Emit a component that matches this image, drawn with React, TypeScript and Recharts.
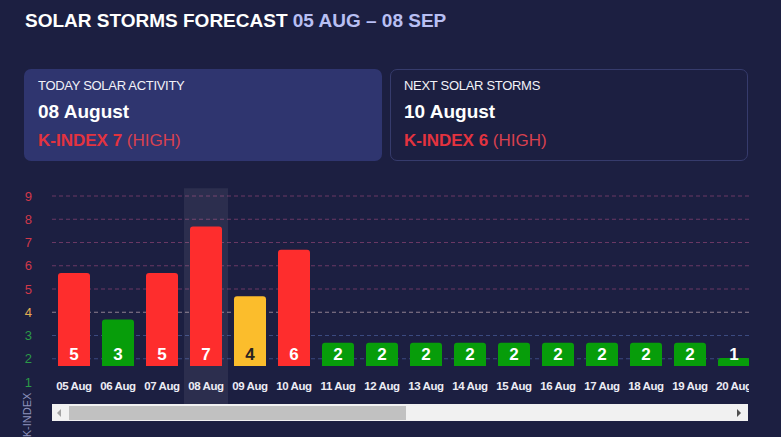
import { BarChart, Bar, XAxis, YAxis, Cell, LabelList, CartesianGrid, ReferenceArea } from "recharts";

const days = ["05 Aug", "06 Aug", "07 Aug", "08 Aug", "09 Aug", "10 Aug", "11 Aug", "12 Aug", "13 Aug", "14 Aug", "15 Aug", "16 Aug", "17 Aug", "18 Aug", "19 Aug", "20 Aug"];
const kIndex = [5, 3, 5, 7, 4, 6, 2, 2, 2, 2, 2, 2, 2, 2, 2, 1];
const yTicks = [1, 2, 3, 4, 5, 6, 7, 8, 9];
const highLevels = [5, 6, 7, 8, 9];
const midLevels = [4];
const lowLevels = [2, 3];
const today = "08 Aug";

const data = days.map((day, i) => ({ day, k: kIndex[i] }));

// the axis labels + grid sit a bit lower than the bar scale in the original
const SHIFT = 16;
const FONT = "Arial, 'Liberation Sans', sans-serif";
const BG = "#1c1f41";

const barColor = (k: number) => (k >= 5 ? "#fe2d2d" : k === 4 ? "#fbbd2c" : "#079d0a");
const tickColor = (k: number) => (k >= 5 ? "#d0384a" : k === 4 ? "#e3ad52" : "#2b9a48");

const YTick = (props: any) => {
    const v = props.payload.value;
    return (
        <text x={props.x} y={props.y + SHIFT} dy={4.5} textAnchor="end" fill={tickColor(v)} fontSize={13} fontFamily={FONT}>
            {v}
        </text>
    );
};

// dashed grid row, pushed down by SHIFT like the tick labels
const gridRow = (color: string) => (p: any) => (
    <line key={p.key} x1={p.x1} x2={p.x2} y1={p.y1 + SHIFT} y2={p.y2 + SHIFT} stroke={color} strokeDasharray="4 3" strokeWidth={1} />
);

const text = (top: number, left: number, size: number, extra: any = {}) => ({
    position: "absolute" as const,
    top,
    left,
    fontSize: size,
    lineHeight: "1",
    whiteSpace: "nowrap" as const,
    ...extra,
});

function Card({ left, title, date, k, fill }: { left: number; title: string; date: string; k: number; fill: boolean }) {
    return (
        <>
            <div
                style={{
                    position: "absolute",
                    left,
                    top: 69,
                    width: 358,
                    height: 92,
                    borderRadius: 7,
                    boxSizing: "border-box",
                    background: fill ? "#2f356f" : "transparent",
                    border: fill ? "none" : "1px solid #363b6c",
                }}
            />
            <div style={text(79, left + 14, 13, { color: "#f2f2f8", letterSpacing: "-0.3px" })}>{title}</div>
            <div style={text(101.6, left + 14, 19, { color: "#ffffff", fontWeight: "bold" })}>{date}</div>
            <div style={text(132.3, left + 14, 17, { color: "#e3333f" })}>
                <b>K-INDEX {k}</b> <span style={{ color: "#d9414f" }}>(HIGH)</span>
            </div>
        </>
    );
}

export default function App() {
    return (
        <div style={{ position: "fixed", left: 0, top: 0, width: 781, height: 437, overflow: "hidden", background: BG, fontFamily: FONT }}>
            <div style={text(11.2, 25, 19, { fontWeight: "bold", color: "#ffffff" })}>
                SOLAR STORMS FORECAST <span style={{ color: "#b8bff3" }}>05 AUG – 08 SEP</span>
            </div>

            <Card left={24} title="TODAY SOLAR ACTIVITY" date="08 August" k={7} fill />
            <Card left={390} title="NEXT SOLAR STORMS" date="10 August" k={6} fill={false} />

            <div style={{ position: "absolute", left: 0, top: 170, width: 749, height: 260, overflow: "hidden" }}>
                <BarChart width={781} height={260} data={data} margin={{ top: 10, right: 25, bottom: 34, left: 0 }} barSize={32}>
                    <CartesianGrid vertical={false} horizontalValues={highLevels} horizontal={gridRow("#6a3864")} />
                    <CartesianGrid vertical={false} horizontalValues={midLevels} horizontal={gridRow("#8e8090")} />
                    <CartesianGrid vertical={false} horizontalValues={lowLevels} horizontal={gridRow("#3b4a80")} />
                    <ReferenceArea x1={today} x2={today} y1={-0.68} y2={8.65} ifOverflow="visible" fill="#ffffff" fillOpacity={0.07} stroke="none" />
                    <XAxis
                        dataKey="day"
                        interval={0}
                        axisLine={false}
                        tickLine={false}
                        tickSize={0}
                        tickMargin={16}
                        height={30}
                        tick={{ fill: "#ececf4", fontSize: 11.5, fontWeight: "bold", fontFamily: FONT, letterSpacing: "-0.4" }}
                    />
                    <YAxis domain={[1, 9]} ticks={yTicks} width={52} axisLine={false} tickLine={false} tickSize={0} tickMargin={20} tick={<YTick />} />
                    <Bar dataKey="k" radius={[3, 3, 0, 0]} minPointSize={8} isAnimationActive={false}>
                        {data.map((d) => (
                            <Cell key={d.day} fill={barColor(d.k)} />
                        ))}
                        <LabelList
                            dataKey="k"
                            content={(p: any) => (
                                <text
                                    x={p.x + p.width / 2}
                                    y={p.y + p.height - 6}
                                    textAnchor="middle"
                                    fontSize={17}
                                    fontWeight="bold"
                                    fontFamily={FONT}
                                    fill={p.value === 4 ? "#2a2320" : "#ffffff"}
                                >
                                    {p.value}
                                </text>
                            )}
                        />
                    </Bar>
                </BarChart>
            </div>

            {/* horizontal scrollbar of the original scroll box */}
            <div style={{ position: "absolute", left: 52, top: 404, width: 696, height: 17, background: "#f1f1f1" }} />
            <div style={{ position: "absolute", left: 69, top: 405.5, width: 337, height: 14, background: "#c1c1c1" }} />
            <div style={{ position: "absolute", left: 57, top: 408.5, width: 0, height: 0, borderTop: "4px solid transparent", borderBottom: "4px solid transparent", borderRight: "4px solid #a3a3a3" }} />
            <div style={{ position: "absolute", left: 737, top: 408.5, width: 0, height: 0, borderTop: "4px solid transparent", borderBottom: "4px solid transparent", borderLeft: "4px solid #505050" }} />

            <div style={text(415, 27, 11, { color: "#8d92bd", transform: "translate(-50%, -50%) rotate(-90deg)", transformOrigin: "center" })}>K-INDEX</div>
        </div>
    );
}
